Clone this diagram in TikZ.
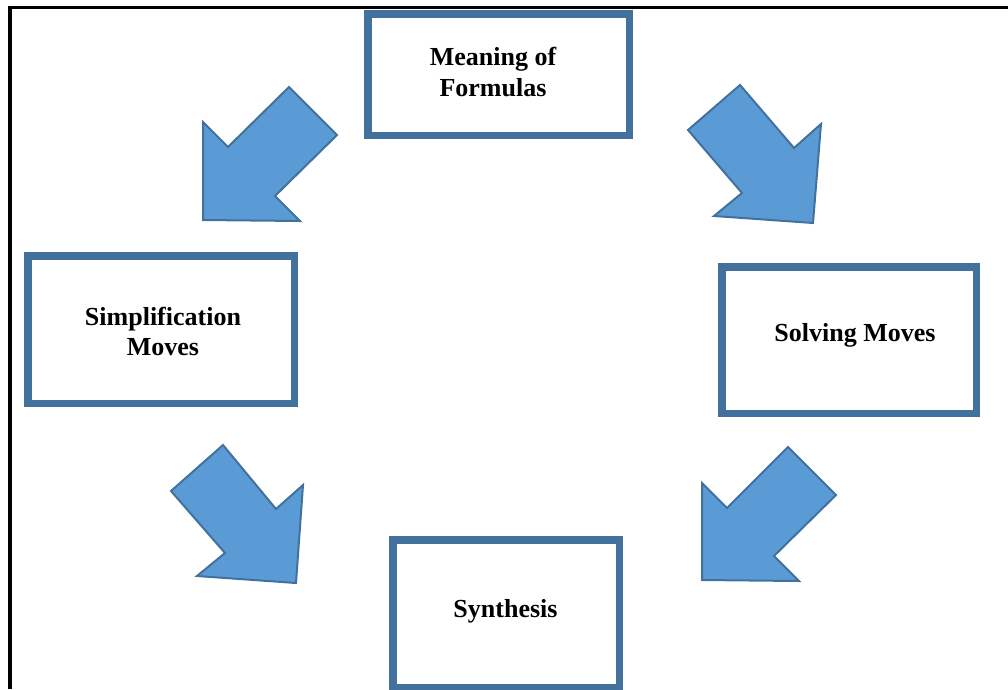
\documentclass[tikz,border=0pt]{standalone}
\usepackage{fontspec}
\setmainfont{Liberation Serif}
\definecolor{boxblue}{HTML}{41719C}
\definecolor{arrowfill}{HTML}{5B9BD5}
\begin{document}
\begin{tikzpicture}[x=1pt,y=-1pt,
  box/.style={draw=boxblue, line width=7.5pt, fill=white, rectangle, inner sep=0pt},
  lbl/.style={font=\bfseries\fontsize{26}{30}\selectfont, align=center, inner sep=0pt},
  blockarrow/.style={draw=boxblue, line width=2pt, fill=arrowfill, line join=miter},
  frame/.style={draw=black, line width=3.5pt}]
\useasboundingbox (0,0) rectangle (1008,689);
% outer frame (left and top only)
\draw[frame] (10,689) -- (10,7.5) -- (1008,7.5);
% boxes
\node[box, minimum width=261.5pt, minimum height=121.5pt] (meaning) at (498.5,74.5) {};
\node[box, minimum width=266.5pt, minimum height=147.5pt] (simpl) at (161,329.5) {};
\node[box, minimum width=254.5pt, minimum height=146.5pt] (solving) at (849,340) {};
\node[box, minimum width=226.5pt, minimum height=147.5pt] (synth) at (506,613.5) {};
% labels
\node[lbl] (meaningtxt) at (493,72) {Meaning of\\Formulas};
\node[lbl] (simpltxt) at (163,331.5) {Simplification\\Moves};
\node[lbl] (solvingtxt) at (855,335) {Solving Moves};
\node[lbl] (synthtxt) at (505.5,611) {Synthesis};
% block arrows
\draw[blockarrow] (289,87) -- (337,135) -- (275,196) -- (300,221) -- (203,220) -- (203,122) -- (228,147) -- cycle;
\draw[blockarrow] (740,85) -- (794,148) -- (821,124) -- (813,223) -- (714,216) -- (742,193) -- (688,130) -- cycle;
\draw[blockarrow] (223,445) -- (276,509) -- (303,485) -- (296,583) -- (197,576) -- (225,553) -- (171,491) -- cycle;
\draw[blockarrow] (788,447) -- (836,495) -- (774,556) -- (799,581) -- (702,580) -- (702,483) -- (727,508) -- cycle;
\end{tikzpicture}
\end{document}
